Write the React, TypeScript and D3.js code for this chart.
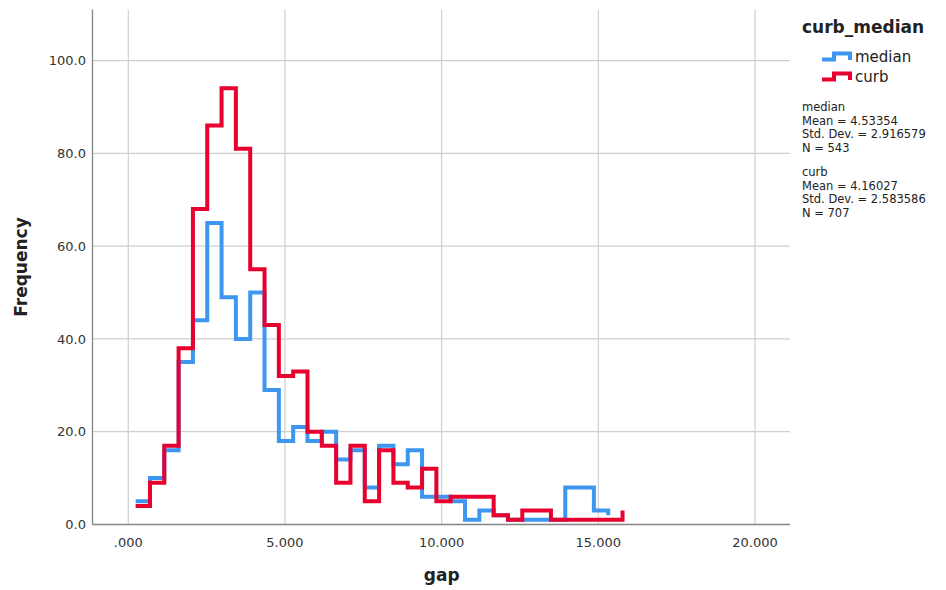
import { useEffect, useRef } from 'react'
import * as d3 from 'd3'

// histogram bins (shared by both groups)
const binStart = 0.235
const binWidth = 0.457

// frequency per bin, last value is where the step line stops
const medianCounts = [5, 10, 16, 35, 44, 65, 49, 40, 50, 29, 18, 21, 18, 20, 14, 16, 8, 17, 13, 16, 6, 6, 5, 1, 3, 2, 1, 1, 1, 1, 8, 8, 3, 2]
const curbCounts = [4, 9, 17, 38, 68, 86, 94, 81, 55, 43, 32, 33, 20, 17, 9, 17, 5, 16, 9, 8, 12, 5, 6, 6, 6, 2, 1, 3, 3, 1, 1, 1, 1, 1, 3]

const xTicks = [0, 5, 10, 15, 20]
const yTicks = [0, 20, 40, 60, 80, 100]

const groups = [
  { name: 'median', counts: medianCounts, color: '#3d97f0', stats: ['median', 'Mean = 4.53354', 'Std. Dev. = 2.916579', 'N = 543'] },
  { name: 'curb', counts: curbCounts, color: '#e8002f', stats: ['curb', 'Mean = 4.16027', 'Std. Dev. = 2.583586', 'N = 707'] },
]

const FONT = '"DejaVu Sans", Verdana, sans-serif'

export default function App() {
  const ref = useRef<SVGSVGElement | null>(null)
  useEffect(() => {
    const width = 946
    const height = 590
    const svg = d3.select(ref.current)
    svg.selectAll('*').remove()
    svg.attr('width', width).attr('height', height)
    svg.append('rect').attr('width', width).attr('height', height).attr('fill', '#fff')

    const left = 92.5
    const right = 790
    const top = 9.5
    const bottom = 524.5

    const x = d3.scaleLinear().domain([-1.142, 21.117]).range([left, right])
    const y = d3.scaleLinear().domain([0, 111]).range([bottom, top])

    const g = svg.append('g')

    // grid
    g.selectAll('line.hg')
      .data(yTicks.filter((d) => d > 0))
      .enter()
      .append('line')
      .attr('x1', left)
      .attr('x2', right)
      .attr('y1', (d: number) => y(d))
      .attr('y2', (d: number) => y(d))
      .attr('stroke', '#cfcfcf')
      .attr('stroke-width', 1.2)
    g.selectAll('line.vg')
      .data(xTicks)
      .enter()
      .append('line')
      .attr('x1', (d: number) => x(d))
      .attr('x2', (d: number) => x(d))
      .attr('y1', top)
      .attr('y2', bottom)
      .attr('stroke', '#cfcfcf')
      .attr('stroke-width', 1.2)

    // axes
    g.append('line').attr('x1', left).attr('x2', left).attr('y1', top).attr('y2', bottom).attr('stroke', '#858585').attr('stroke-width', 1.3)
    g.append('line').attr('x1', left).attr('x2', right).attr('y1', bottom).attr('y2', bottom).attr('stroke', '#858585').attr('stroke-width', 1.3)

    g.selectAll('text.yt')
      .data(yTicks)
      .enter()
      .append('text')
      .attr('x', 86)
      .attr('y', (d: number) => y(d))
      .attr('dy', '0.36em')
      .attr('text-anchor', 'end')
      .attr('font-family', FONT)
      .attr('font-size', 13)
      .attr('fill', '#333')
      .text((d: number) => d.toFixed(1))

    g.selectAll('text.xt')
      .data(xTicks)
      .enter()
      .append('text')
      .attr('x', (d: number) => x(d))
      .attr('y', 547)
      .attr('text-anchor', 'middle')
      .attr('font-family', FONT)
      .attr('font-size', 13)
      .attr('fill', '#333')
      .text((d: number) => (d === 0 ? '.000' : d3.format('.3f')(d)))

    g.append('text')
      .attr('transform', `translate(27,${(top + bottom) / 2}) rotate(-90)`)
      .attr('text-anchor', 'middle')
      .attr('font-family', FONT)
      .attr('font-weight', 'bold')
      .attr('font-size', 17)
      .attr('fill', '#222')
      .text('Frequency')

    g.append('text')
      .attr('x', x(10))
      .attr('y', 581)
      .attr('text-anchor', 'middle')
      .attr('font-family', FONT)
      .attr('font-weight', 'bold')
      .attr('font-size', 17)
      .attr('fill', '#222')
      .text('gap')

    // step lines
    const line = d3
      .line<number>()
      .x((_d: number, i: number) => x(binStart + i * binWidth))
      .y((d: number) => y(d))
      .curve(d3.curveStepAfter)

    for (const s of groups) {
      g.append('path')
        .datum(s.counts)
        .attr('fill', 'none')
        .attr('stroke', s.color)
        .attr('stroke-width', 4)
        .attr('stroke-linejoin', 'miter')
        .attr('d', line as any)
    }

    // legend
    const lg = svg.append('g')
    lg.append('text')
      .attr('x', 802)
      .attr('y', 33)
      .attr('font-family', FONT)
      .attr('font-weight', 'bold')
      .attr('font-size', 17)
      .attr('fill', '#222')
      .text('curb_median')

    groups.forEach((s, i) => {
      const cy = 57 + i * 20
      lg.append('path')
        .attr('d', `M822,${cy + 2.5}H834V${cy - 3.5}H850V${cy + 3}`)
        .attr('fill', 'none')
        .attr('stroke', s.color)
        .attr('stroke-width', 4)
      lg.append('text')
        .attr('x', 855)
        .attr('y', cy)
        .attr('dy', '0.36em')
        .attr('font-family', FONT)
        .attr('font-size', 15)
        .attr('fill', '#222')
        .text(s.name)

      s.stats.forEach((t, j) => {
        lg.append('text')
          .attr('x', 802)
          .attr('y', 111 + i * 65 + j * 13.5)
          .attr('font-family', FONT)
          .attr('font-size', 11.5)
          .attr('fill', '#222')
          .text(t)
      })
    })
  }, [])
  return <svg ref={ref} style={{ position: 'absolute', left: 0, top: 0, display: 'block' }} />
}
